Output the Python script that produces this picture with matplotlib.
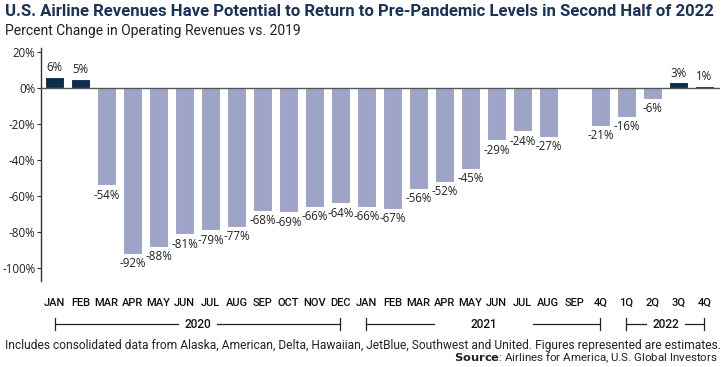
import numpy as np
import matplotlib
matplotlib.use("Agg")
import matplotlib.pyplot as plt

categories = ["JAN", "FEB", "MAR", "APR", "MAY", "JUN", "JUL", "AUG", "SEP", "OCT", "NOV", "DEC",
              "JAN", "FEB", "MAR", "APR", "MAY", "JUN", "JUL", "AUG", "SEP",
              "4Q", "1Q", "2Q", "3Q", "4Q"]
values = [6, 5, -54, -92, -88, -81, -79, -77, -68, -69, -66, -64,
          -66, -67, -56, -52, -45, -29, -24, -27, np.nan,
          -21, -16, -6, 3, 1]
year_groups = [("2020", 0, 11), ("2021", 12, 21), ("2022", 22, 25)]
yticks = [20, 0, -20, -40, -60, -80, -100]

COND = ["Roboto", "DejaVu Sans"]
REG = ["Open Sans", "DejaVu Sans"]

fig = plt.figure(figsize=(7.25, 3.67), dpi=100)
ax = fig.add_axes([41/725, 1-281/367, (720-41)/725, (281-48)/367])

x = np.arange(len(categories))
light = "#9ea3c8"
dark = "#0c2d4e"
vals = np.array(values, dtype=float)
mask = ~np.isnan(vals)
colors = [dark if v > 0 else light for v in vals[mask]]
ax.bar(x[mask], vals[mask], width=0.76, color=colors, edgecolor="white", linewidth=0.8, zorder=2)

for xi, v in zip(x[mask], vals[mask]):
    if v > 0:
        ax.annotate(f"{int(v)}%", (xi, v), xytext=(0, 2), textcoords="offset points",
                    ha="center", va="bottom", fontsize=8.3, family=REG, color="#222222")
    else:
        ax.annotate(f"{int(v)}%", (xi, v), xytext=(0, -2.5), textcoords="offset points",
                    ha="center", va="top", fontsize=8.3, family=REG, color="#222222")

ax.set_xlim(-0.52, 25.6)
ax.set_ylim(-107, 22)
ax.axhline(0, color="#555555", linewidth=1.0, zorder=3)
for s in ["top", "right", "bottom"]:
    ax.spines[s].set_visible(False)
ax.spines["left"].set_color("#333333")
ax.spines["left"].set_linewidth(1.0)
ax.set_yticks(yticks)
ax.set_yticklabels([f"{t}%" for t in yticks], fontsize=8.3, family=REG, color="#222222")
ax.tick_params(axis="y", length=3, width=0.8, color="#333333", pad=1)
ax.set_xticks(x)
ax.set_xticklabels(categories, fontsize=8, family=COND, fontweight="medium", color="#111111")
ax.tick_params(axis="x", length=0, pad=12)

# year brackets
trans = ax.get_xaxis_transform()
ybr = -0.185
for label, a, b in year_groups:
    mid = (a + b) / 2
    gap = 0.75 if label != "2021" else 1.9
    ax.plot([a, mid - gap], [ybr, ybr], color="#222222", lw=0.9, transform=trans, clip_on=False)
    ax.plot([mid + gap, b], [ybr, ybr], color="#222222", lw=0.9, transform=trans, clip_on=False)
    for e in (a, b):
        ax.plot([e, e], [ybr - 0.025, ybr + 0.025], color="#222222", lw=0.9, transform=trans, clip_on=False)
    ax.text(mid, ybr, label, transform=trans, ha="center", va="center", fontsize=8.5,
            family=COND, fontweight="medium", color="#111111")


def fit_text(t, target_px):
    fig.canvas.draw()
    r = fig.canvas.get_renderer()
    for _ in range(4):
        w = t.get_window_extent(renderer=r).width
        t.set_fontsize(t.get_fontsize() * target_px / w)


t1 = fig.text(5/725, 1-12/367, "U.S. Airline Revenues Have Potential to Return to Pre-Pandemic Levels in Second Half of 2022",
              fontsize=11, fontweight="bold", family=COND, color="#1b3354", va="center", ha="left")
t2 = fig.text(5/725, 1-31/367, "Percent Change in Operating Revenues vs. 2019",
              fontsize=9.5, family=COND, color="#222222", va="center", ha="left")
t3 = fig.text(5/725, 1-345/367, "Includes consolidated data from Alaska, American, Delta, Hawaiian, JetBlue, Southwest and United. Figures represented are estimates.",
              fontsize=8.5, family=COND, color="#222222", va="center", ha="left")
t4 = fig.text(718/725, 1-358/367, r"$\bf{Source}$: Airlines for America, U.S. Global Investors",
              fontsize=8.5, family=COND, color="#222222", va="center", ha="right")
fit_text(t1, 710)
fit_text(t2, 296)
fit_text(t3, 713)
fit_text(t4, 264)

fig.savefig("out.png", dpi=100)
